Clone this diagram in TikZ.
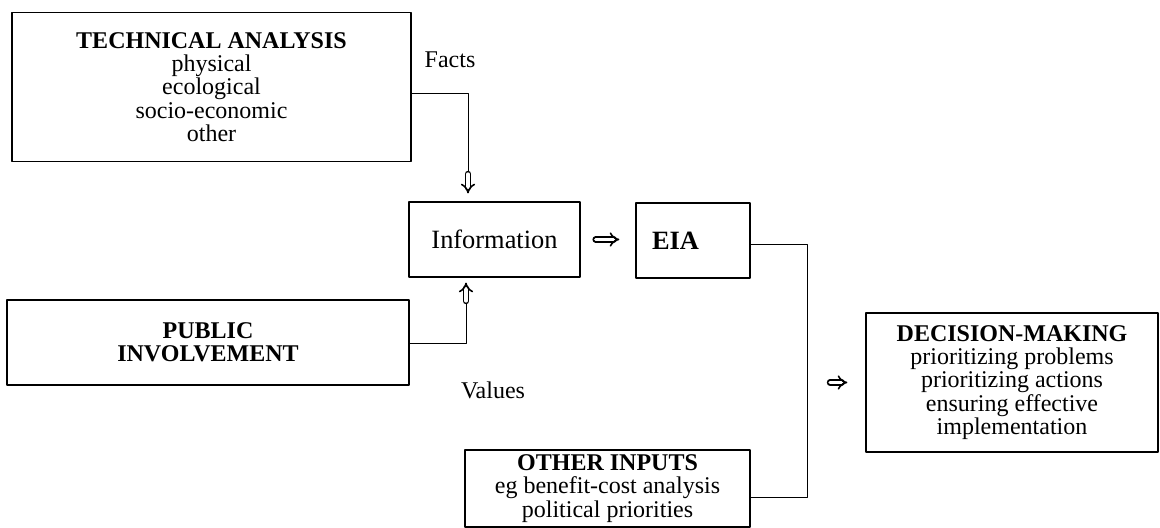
\documentclass[tikz,border=0pt]{standalone}
\usepackage{fontspec}
\setmainfont{Liberation Serif}
\usepackage{tikz}
\usetikzlibrary{arrows.meta}

\begin{document}
\begin{tikzpicture}[x=0.5pt, y=-0.5pt, line cap=round, line join=round,
  font=\fontsize{12}{11.6}\selectfont,
  box/.style={draw, line width=0.6pt, align=center, inner sep=1pt},
  big/.style={font=\fontsize{13.2}{13}\selectfont},
  conn/.style={line width=0.5pt},
  dblarrow/.style={double, double distance=1.6pt, line width=0.8pt, -{Implies}}]

\useasboundingbox (0,0) rectangle (1160,528);


\node[box, minimum width=199.5pt, minimum height=74.5pt] (TA) at (211.5,87)
  {\textbf{TECHNICAL ANALYSIS}\\physical\\ecological\\socio-economic\\other};
\node[box, minimum width=201pt, minimum height=42.5pt] (PI) at (208,342.5)
  {\textbf{PUBLIC}\\\textbf{INVOLVEMENT}};
\node[box, big, minimum width=85.5pt, minimum height=37.5pt] (Info) at (494.5,239.5)
  {Information};
\node[box, big, minimum height=37.5pt, text width=41pt, align=left, inner xsep=8pt] (EIA) at (693,240.5)
  {\textbf{EIA}};
\node[box, minimum width=142.5pt, minimum height=38.5pt] (OI) at (607.5,488.5)
  {\textbf{OTHER INPUTS}\\eg benefit-cost analysis\\political priorities};
\node[box, minimum width=146pt, minimum height=69.5pt] (DM) at (1012,382.5)
  {\textbf{DECISION-MAKING}\\prioritizing problems\\prioritizing actions\\ensuring effective\\implementation};


\node (facts) at (450,60) {Facts};
\node (values) at (493,390) {Values};


\coordinate (fbend) at (468,94);
\coordinate (fend) at (468,174);
\draw[conn] (TA.east|-fbend) -- (fbend) -- (fend);
\draw[dblarrow, shorten >=4pt] (fend) -- (fend|-Info.north);

\coordinate (vbend) at (466,344);
\coordinate (vend) at (466,301);
\draw[conn] (PI.east|-vbend) -- (vbend) -- (vend);
\draw[dblarrow, shorten >=2.5pt] (vend) -- (vend|-Info.south);

\draw[dblarrow, shorten <=7.5pt, shorten >=8pt] (Info.east) -- (EIA.west|-Info.east);


\coordinate (btop) at (807,245);
\coordinate (bbot) at (807,497);
\coordinate (bjoin) at (807,382.5);
\draw[conn] (EIA.east|-btop) -- (btop) -- (bbot) -- (OI.east|-bbot);
\draw[dblarrow, shorten <=11.5pt, shorten >=9pt] (bjoin) -- (DM.west);

\end{tikzpicture}
\end{document}
